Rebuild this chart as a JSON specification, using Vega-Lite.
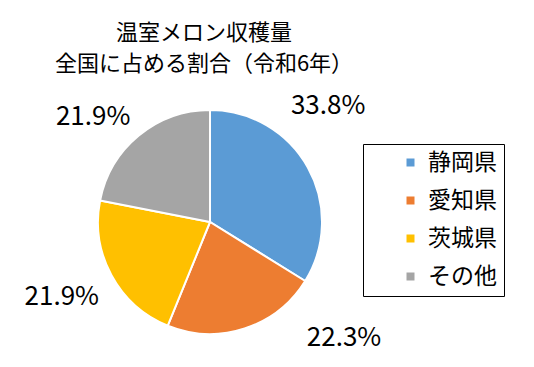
{
  "$schema": "https://vega.github.io/schema/vega-lite/v6.json",
  "width": 224,
  "height": 224,
  "autosize": {"type": "none"},
  "padding": {"left": 98, "top": 110, "right": 212, "bottom": 33},
  "background": "white",
  "title": {
    "text": ["温室メロン収穫量", "全国に占める割合（令和6年）"],
    "font": "Noto Sans CJK JP",
    "fontSize": 22,
    "fontWeight": "normal",
    "color": "#000000",
    "anchor": "middle",
    "frame": "group",
    "lineHeight": 31,
    "offset": 17,
    "dx": -6
  },
  "config": {"view": {"stroke": null}},
  "data": {
    "values": [
      {"region": "静岡県", "share": 33.8, "label": "33.8%", "rank": 1},
      {"region": "愛知県", "share": 22.3, "label": "22.3%", "rank": 2},
      {"region": "茨城県", "share": 21.9, "label": "21.9%", "rank": 3},
      {"region": "その他", "share": 21.9, "label": "21.9%", "rank": 4}
    ]
  },
  "layer": [
    {
      "mark": {"type": "arc", "stroke": "white", "strokeWidth": 2},
      "encoding": {
        "theta": {"field": "share", "type": "quantitative", "stack": true},
        "order": {"field": "rank", "type": "quantitative"},
        "color": {
          "field": "region",
          "type": "nominal",
          "scale": {
            "domain": ["静岡県", "愛知県", "茨城県", "その他"],
            "range": ["#5B9BD5", "#ED7D31", "#FFC000", "#A5A5A5"]
          },
          "legend": {
            "orient": "none",
            "legendX": 265,
            "legendY": 34,
            "title": null,
            "symbolType": "square",
            "symbolSize": 64,
            "symbolStrokeWidth": 0,
            "symbolOffset": 29,
            "labelFont": "Noto Sans CJK JP",
            "labelFontSize": 23,
            "labelColor": "#000000",
            "labelOffset": 6,
            "labelExpr": "datum.label + '　'",
            "rowPadding": 14,
            "padding": 7,
            "strokeColor": "#000000",
            "fillColor": "white"
          }
        }
      }
    },
    {
      "mark": {
        "type": "text",
        "radius": 165,
        "font": "Noto Sans CJK JP",
        "fontSize": 26,
        "color": "#000000",
        "dx": {"expr": "datum.region === '静岡県' ? -26 : datum.region === '愛知県' ? 83 : datum.region === 'その他' ? -12 : -3"},
        "dy": {"expr": "datum.region === '静岡県' ? -36 : datum.region === '愛知県' ? -41 : datum.region === 'その他' ? 22 : -3"}
      },
      "encoding": {
        "theta": {"field": "share", "type": "quantitative", "stack": true},
        "order": {"field": "rank", "type": "quantitative"},
        "detail": {"field": "region", "type": "nominal"},
        "text": {"field": "label", "type": "nominal"}
      }
    }
  ]
}
